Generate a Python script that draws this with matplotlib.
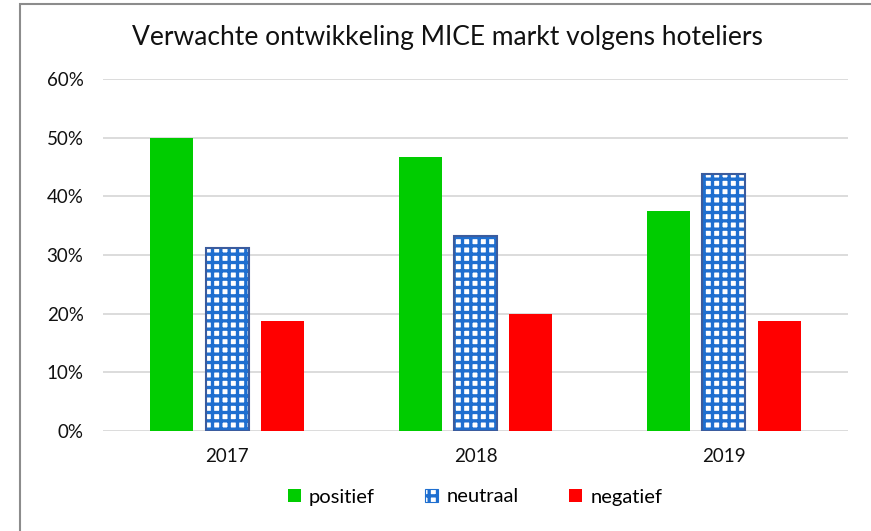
import numpy as np
import matplotlib
matplotlib.use("Agg")
import matplotlib.pyplot as plt
from matplotlib.patches import Rectangle, Patch
from matplotlib.ticker import PercentFormatter

plt.rcParams['font.family'] = ['Lato', 'DejaVu Sans']
plt.rcParams['hatch.color'] = '#1f6fd0'
plt.rcParams['hatch.linewidth'] = 2.4

# data
years = ['2017', '2018', '2019']
positief = [50.0, 46.7, 37.5]
neutraal = [31.25, 33.3, 43.75]
negatief = [18.75, 20.0, 18.75]

fig = plt.figure(figsize=(8.71, 5.31), dpi=100)
ax = fig.add_axes([103/871, 1 - 431/531, 745/871, 352/531])

x = np.arange(len(years))
w = 0.173
step = 0.223

ax.bar(x - step, positief, w, color='#00cc00', zorder=3)
ax.bar(x, neutraal, w, facecolor='white', edgecolor='#1f6fd0', hatch='++',
       linewidth=0, zorder=3)
ax.bar(x, neutraal, w, facecolor='none', edgecolor='#3b5c9e', linewidth=1.5, zorder=4)
ax.bar(x + step, negatief, w, color='#ff0000', zorder=3)

ax.set_xlim(-0.5, 2.5)
ax.set_ylim(0, 60)
ax.set_yticks(np.arange(0, 61, 10))
ax.yaxis.set_major_formatter(PercentFormatter(decimals=0))
ax.set_xticks(x)
ax.set_xticklabels(years)
ax.tick_params(axis='both', length=0, labelsize=13.5, colors='#111111')
ax.tick_params(axis='y', pad=14)
ax.tick_params(axis='x', pad=12)
ax.grid(axis='y', color='#d9d9d9', linewidth=1.3, zorder=0)
for s in ax.spines.values():
    s.set_visible(False)

fig.text(447/871, 1 - 38/531, 'Verwachte ontwikkeling MICE markt volgens hoteliers',
         ha='center', va='center', fontsize=19, color='#111111')

# legend
handles = [Patch(facecolor='#00cc00'),
           Patch(facecolor='white', edgecolor='#1f6fd0', hatch='++', linewidth=0.8),
           Patch(facecolor='#ff0000')]
fig.legend(handles, ['positief', 'neutraal', 'negatief'], loc='center',
           bbox_to_anchor=(475/871, 1 - 497/531), ncol=3, frameon=False,
           fontsize=14.5, handlelength=0.65, handleheight=0.65, columnspacing=2.5,
           handletextpad=0.4)

# chart frame
fig.add_artist(Rectangle((20/871, -0.1), 1.2, 1 - 4/531 + 0.1, transform=fig.transFigure,
                         fill=False, edgecolor='#8c8c8c', linewidth=1.5))

fig.savefig('out.png', dpi=100)
